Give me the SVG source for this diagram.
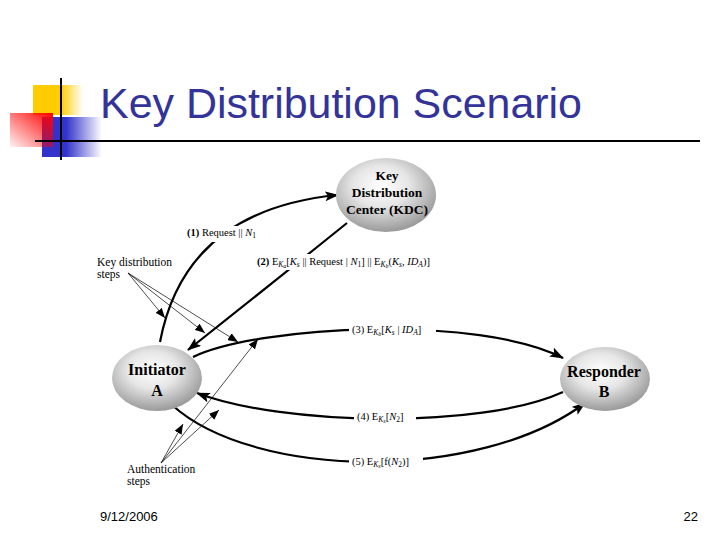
<svg xmlns="http://www.w3.org/2000/svg" width="720" height="540" viewBox="0 0 720 540">
<defs>
<linearGradient id="gy" x1="0" y1="0" x2="1" y2="0"><stop offset="0" stop-color="#FFCC00"/><stop offset="0.55" stop-color="#FFCC00"/><stop offset="1" stop-color="#FFCC00" stop-opacity="0"/></linearGradient>
<linearGradient id="gb" x1="0" y1="0" x2="1" y2="0"><stop offset="0" stop-color="#3333CC"/><stop offset="0.4" stop-color="#3333CC"/><stop offset="1" stop-color="#3333CC" stop-opacity="0"/></linearGradient>
<linearGradient id="gr" x1="1" y1="0" x2="0" y2="1"><stop offset="0" stop-color="#FF0000"/><stop offset="1" stop-color="#FF0000" stop-opacity="0.05"/></linearGradient>
<radialGradient id="gn" cx="0.45" cy="0.38" r="0.62"><stop offset="0" stop-color="#ffffff"/><stop offset="0.45" stop-color="#e6e6e6"/><stop offset="1" stop-color="#9a9a9a"/></radialGradient>
<marker id="ah" markerUnits="userSpaceOnUse" markerWidth="14" markerHeight="10" refX="13" refY="5" orient="auto"><path d="M0,0 L14,5 L0,10 L3,5 Z" fill="#000"/></marker>
<marker id="ta" markerUnits="userSpaceOnUse" markerWidth="10" markerHeight="8" refX="10" refY="4" orient="auto"><path d="M0,0 L10,4 L0,8 Z" fill="#000"/></marker>
</defs>
<style>
.node{fill:url(#gn)}
.nt{font-family:"Liberation Serif",serif;font-weight:bold;fill:#000;text-anchor:middle}
.c{fill:none;stroke:#000;stroke-width:2.2;marker-end:url(#ah)}
.t{fill:none;stroke:#000;stroke-width:0.7;marker-end:url(#ta)}
.lb{font-family:"Liberation Serif",serif;font-size:10.5px;fill:#000}
.sm{font-family:"Liberation Serif",serif;font-size:11.5px;fill:#000}
.bg{fill:#fff}
</style>
<rect width="720" height="540" fill="#fff"/>
<g id="decor">
<rect x="33" y="85" width="50" height="30" fill="url(#gy)"/>
<rect x="42" y="117" width="60" height="40" fill="url(#gb)"/>
<rect x="10" y="113" width="43" height="34" fill="url(#gr)"/>
<line x1="61" y1="78" x2="61" y2="160" stroke="#000" stroke-width="2"/>
<line x1="35" y1="141" x2="700" y2="141" stroke="#000" stroke-width="2"/>
</g>
<text x="100" y="118" font-family="Liberation Sans, sans-serif" font-size="42" fill="#333399" textLength="482" lengthAdjust="spacingAndGlyphs">Key Distribution Scenario</text>
<g id="connectors">
<path class="c" d="M160,342 Q185,210 338,195"/>
<path class="c" d="M347,223 Q270,285 188,350"/>
<path class="c" d="M193,357 C260,325 480,315 563,358"/>
<path class="c" d="M563,392 C480,430 280,425 197,393"/>
<path class="c" d="M172,405 C255,480 480,482 585,403"/>
<path class="t" d="M128,273 L165,318"/>
<path class="t" d="M128,273 L205,333"/>
<path class="t" d="M128,273 L238,342"/>
<path class="t" d="M161,463 L183,424"/>
<path class="t" d="M161,463 L219,410"/>
<path class="t" d="M161,463 L258,339"/>
</g>
<g id="labels">
<rect class="bg" x="185" y="226" width="80" height="16"/>
<text class="lb" x="187" y="236"><tspan font-weight="bold">(1)</tspan> Request || <tspan font-style="italic">N</tspan><tspan font-size="7.5" dy="2">1</tspan></text>
<rect class="bg" x="255" y="254" width="180" height="16"/>
<text class="lb" x="257" y="265"><tspan font-weight="bold">(2)</tspan> E<tspan font-size="7.5" dy="2" font-style="italic">K<tspan font-size="6" dy="1">a</tspan></tspan><tspan dy="-3">[</tspan><tspan font-style="italic">K</tspan><tspan font-size="7.5" dy="2" font-style="italic">s</tspan><tspan dy="-2"> || Request | </tspan><tspan font-style="italic">N</tspan><tspan font-size="7.5" dy="2">1</tspan><tspan dy="-2">] || E</tspan><tspan font-size="7.5" dy="2" font-style="italic">K<tspan font-size="6" dy="1">b</tspan></tspan><tspan dy="-3">(</tspan><tspan font-style="italic">K</tspan><tspan font-size="7.5" dy="2" font-style="italic">s</tspan><tspan dy="-2">, </tspan><tspan font-style="italic">ID</tspan><tspan font-size="7.5" dy="2" font-style="italic">A</tspan><tspan dy="-2">)]</tspan></text>
<rect class="bg" x="349" y="323" width="87" height="16"/>
<text class="lb" x="352" y="333">(3) E<tspan font-size="7.5" dy="2" font-style="italic">K<tspan font-size="6" dy="1">b</tspan></tspan><tspan dy="-3">[</tspan><tspan font-style="italic">K</tspan><tspan font-size="7.5" dy="2" font-style="italic">s</tspan><tspan dy="-2"> | </tspan><tspan font-style="italic">ID</tspan><tspan font-size="7.5" dy="2" font-style="italic">A</tspan><tspan dy="-2">]</tspan></text>
<rect class="bg" x="354" y="409" width="62" height="17"/>
<text class="lb" x="357" y="420">(4) E<tspan font-size="7.5" dy="2" font-style="italic">K<tspan font-size="6" dy="1">s</tspan></tspan><tspan dy="-3">[</tspan><tspan font-style="italic">N</tspan><tspan font-size="7.5" dy="2">2</tspan><tspan dy="-2">]</tspan></text>
<rect class="bg" x="349" y="454" width="74" height="17"/>
<text class="lb" x="352" y="465">(5) E<tspan font-size="7.5" dy="2" font-style="italic">K<tspan font-size="6" dy="1">s</tspan></tspan><tspan dy="-3">[f(</tspan><tspan font-style="italic">N</tspan><tspan font-size="7.5" dy="2">2</tspan><tspan dy="-2">)]</tspan></text>
<text class="sm" x="97" y="266">Key distribution</text>
<text class="sm" x="97" y="278">steps</text>
<text class="sm" x="127" y="473">Authentication</text>
<text class="sm" x="127" y="485">steps</text>
</g>
<g id="kdc">
<ellipse class="node" cx="386" cy="195" rx="50" ry="37"/>
<text class="nt" x="387" y="180" font-size="13.5">Key</text>
<text class="nt" x="387" y="197" font-size="13.5">Distribution</text>
<text class="nt" x="387" y="214" font-size="13.5">Center (KDC)</text>
</g>
<g id="initiator">
<ellipse class="node" cx="157" cy="378" rx="45" ry="33"/>
<text class="nt" x="157" y="375" font-size="16">Initiator</text>
<text class="nt" x="157" y="396" font-size="16">A</text>
</g>
<g id="responder">
<ellipse class="node" cx="605" cy="379" rx="45" ry="32"/>
<text class="nt" x="604" y="377" font-size="16">Responder</text>
<text class="nt" x="604" y="397" font-size="16">B</text>
</g>
<text x="100" y="521" font-family="Liberation Sans, sans-serif" font-size="13" fill="#000">9/12/2006</text>
<text x="698" y="521" font-family="Liberation Sans, sans-serif" font-size="13" fill="#000" text-anchor="end">22</text>
</svg>
